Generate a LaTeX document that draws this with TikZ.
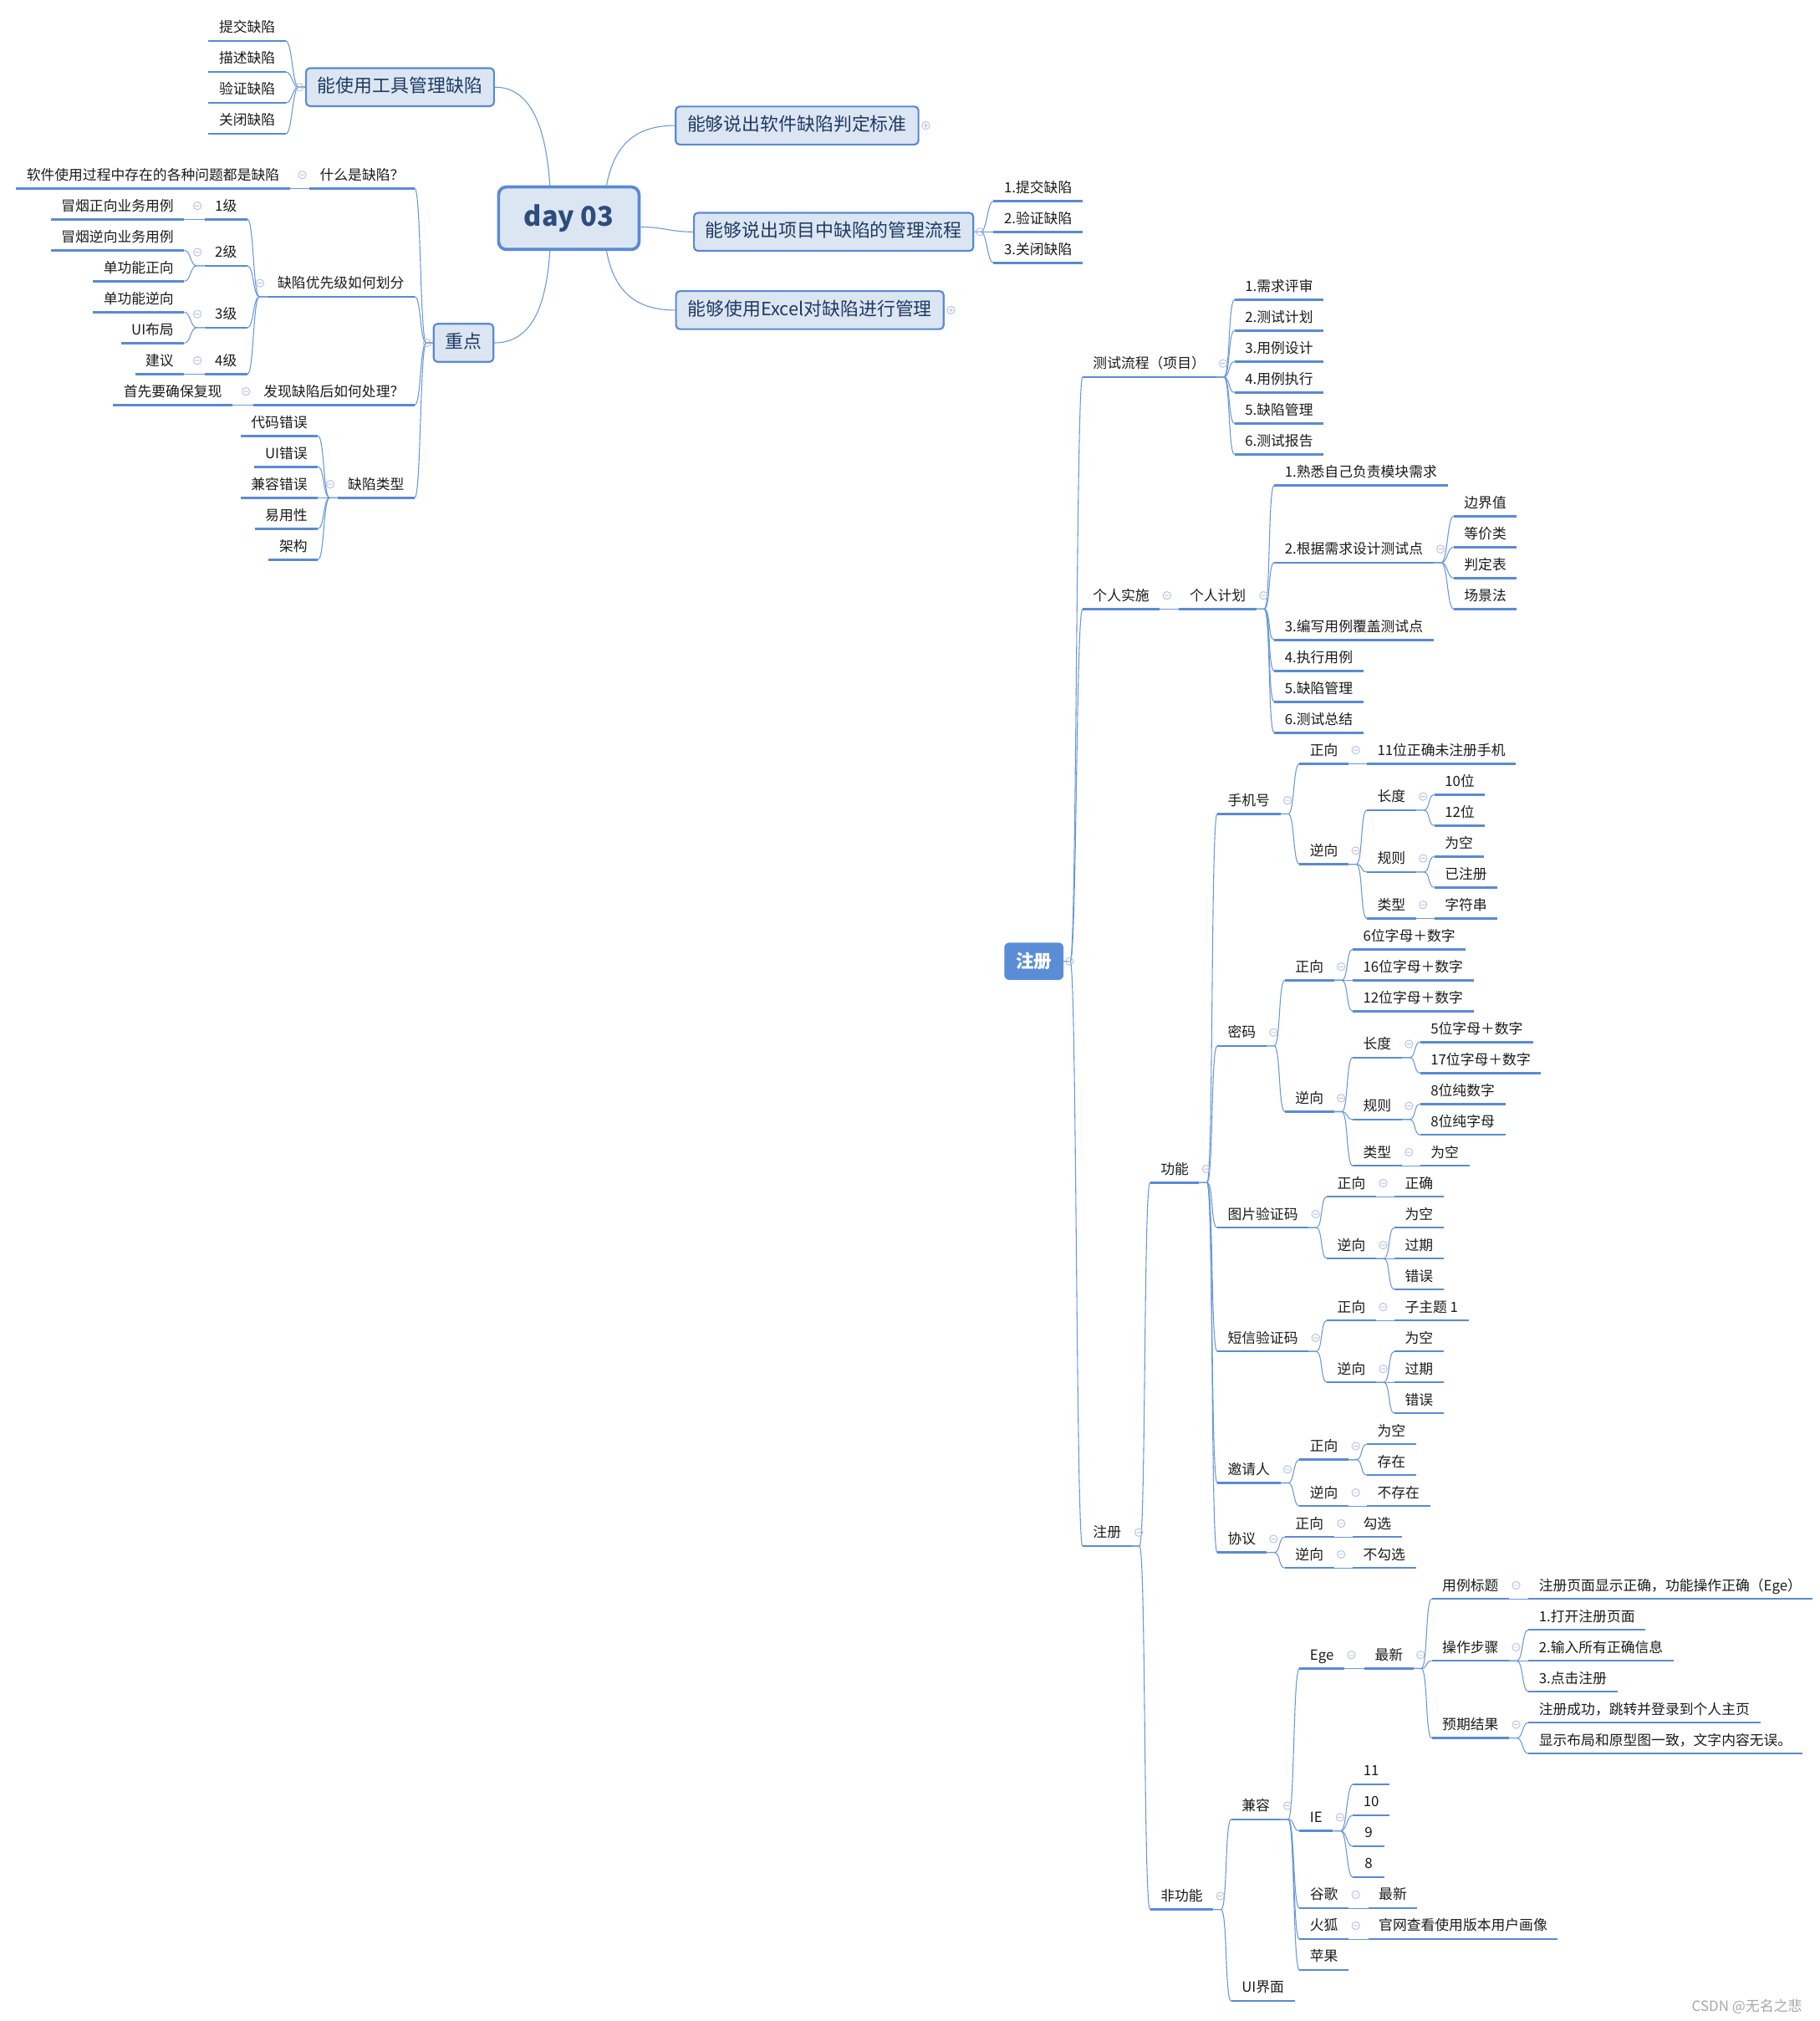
\documentclass[tikz,border=0pt]{standalone}
\usepackage{fontspec}
\setmainfont{Noto Sans CJK SC}
\definecolor{lineblue}{HTML}{5A8AD4}
\definecolor{linkblue}{HTML}{6B98DA}
\definecolor{boxfill}{HTML}{DCE6F3}
\definecolor{boxline}{HTML}{5A8AD4}
\definecolor{boxtext}{HTML}{1F3A63}
\definecolor{daytext}{HTML}{2E4C7C}
\definecolor{rootfill}{HTML}{5B8DD6}
\definecolor{foldgray}{HTML}{B3C0DE}
\definecolor{subtext}{HTML}{1A1A1A}
\definecolor{marktext}{HTML}{A6A6A6}
\newcommand\subfnt{\fontsize{10.9}{13}\selectfont}
\newcommand\topicfnt{\fontsize{14.2}{17}\selectfont}

\begin{document}
\begin{tikzpicture}[
	x=1pt, y=-1pt,
	central/.style={ rectangle, rounded corners=6pt, draw=boxline, line width=2.4pt, fill=boxfill, text=daytext, font=\fontsize{21}{24}\selectfont\bfseries, minimum width=109pt, minimum height=48.5pt },
	topic/.style={ rectangle, rounded corners=3pt, draw=boxline, line width=1.4pt, fill=boxfill, text=boxtext, font=\topicfnt, inner xsep=9pt, inner ysep=0pt, text height=11pt, text depth=2.4pt, minimum height=29.5pt },
	root/.style={ rectangle, rounded corners=4pt, fill=rootfill, text=white, font=\fontsize{14}{16}\selectfont\bfseries, minimum width=46pt, minimum height=29pt, inner sep=0pt },
	sub/.style={ inner xsep=8pt, inner ysep=3pt, text height=9pt, text depth=3.4pt, minimum width=24pt, text=subtext, font=\subfnt, append after command={(\tikzlastnode.south west) edge[uline] (\tikzlastnode.south east)} },
	rsub/.style={ sub, anchor=south west },
	lsub/.style={ sub, anchor=south east },
	uline/.style={ draw=lineblue, line width=1.6pt },
	link/.style={ draw=linkblue, line width=0.7pt },
	fold/.style={ draw=foldgray, line width=0.6pt }
]
\useasboundingbox (0,0) rectangle (1412,1568);

\node at (441.4,169.3) (day) [central] {day 03};
\node at (310.4,67.6) (tool) [topic] {能使用工具管理缺陷};
\node at (618.5,97.4) (std) [topic] {能够说出软件缺陷判定标准};
\node at (646.9,179.9) (flow) [topic] {能够说出项目中缺陷的管理流程};
\node at (628.4,240.6) (excel) [topic] {能够使用Excel对缺陷进行管理};
\node at (359.7,266) (key) [topic] {重点};
\node at (802.3,745.8) (reg) [root] {注册};

\node at (221.8,31.9) (t1) [lsub] {提交缺陷};
\node at (221.8,55.9) (t2) [lsub] {描述缺陷};
\node at (221.8,79.9) (t3) [lsub] {验证缺陷};
\node at (221.8,103.9) (t4) [lsub] {关闭缺陷};

\node at (321.8,146.2) (what) [lsub] {什么是缺陷？};
\node at (321.8,230.2) (prio) [lsub] {缺陷优先级如何划分};
\node at (321.8,314.2) (found) [lsub] {发现缺陷后如何处理？};
\node at (321.8,386.2) (kind) [lsub] {缺陷类型};
\node at (225,146.2) (whatdef) [lsub] {软件使用过程中存在的各种问题都是缺陷};
\node at (192,170.2) (lv1) [lsub] {1级};
\node at (192,206.2) (lv2) [lsub] {2级};
\node at (192,254.2) (lv3) [lsub] {3级};
\node at (192,290.2) (lv4) [lsub] {4级};
\node at (143,170.2) (smk1) [lsub] {冒烟正向业务用例};
\node at (143,194.2) (smk2) [lsub] {冒烟逆向业务用例};
\node at (143,218.2) (unit1) [lsub] {单功能正向};
\node at (143,242.2) (unit2) [lsub] {单功能逆向};
\node at (143,266.2) (uilay) [lsub] {UI布局};
\node at (143,290.2) (advice) [lsub] {建议};
\node at (180.4,314.2) (repro) [lsub] {首先要确保复现};
\node at (246.7,338.2) (k1) [lsub] {代码错误};
\node at (246.7,362.2) (k2) [lsub] {UI错误};
\node at (246.7,386.2) (k3) [lsub] {兼容错误};
\node at (246.7,410.2) (k4) [lsub] {易用性};
\node at (246.7,434.2) (k5) [lsub] {架构};

\node at (771,156) (f1) [rsub] {1.提交缺陷};
\node at (771,180) (f2) [rsub] {2.验证缺陷};
\node at (771,204) (f3) [rsub] {3.关闭缺陷};

\node at (840,292.5) (proc) [rsub] {测试流程（项目）};
\node at (840,472.5) (self) [rsub] {个人实施};
\node at (840,1199.5) (regl) [rsub] {注册};

\node at (958,232.5) (p1) [rsub] {1.需求评审};
\node at (958,256.5) (p2) [rsub] {2.测试计划};
\node at (958,280.5) (p3) [rsub] {3.用例设计};
\node at (958,304.5) (p4) [rsub] {4.用例执行};
\node at (958,328.5) (p5) [rsub] {5.缺陷管理};
\node at (958,352.5) (p6) [rsub] {6.测试报告};

\node at (915,472.5) (plan) [rsub] {个人计划};
\node at (988.8,376.5) (s1) [rsub] {1.熟悉自己负责模块需求};
\node at (988.8,436.5) (s2) [rsub] {2.根据需求设计测试点};
\node at (988.8,496.5) (s3) [rsub] {3.编写用例覆盖测试点};
\node at (988.8,520.5) (s4) [rsub] {4.执行用例};
\node at (988.8,544.5) (s5) [rsub] {5.缺陷管理};
\node at (988.8,568.5) (s6) [rsub] {6.测试总结};
\node at (1128,400.5) (b1) [rsub] {边界值};
\node at (1128,424.5) (b2) [rsub] {等价类};
\node at (1128,448.5) (b3) [rsub] {判定表};
\node at (1128,472.5) (b4) [rsub] {场景法};

\node at (892.4,917.5) (func) [rsub] {功能};
\node at (892.4,1481.5) (nonf) [rsub] {非功能};

\node at (944.5,631.5) (phone) [rsub] {手机号};
\node at (944.5,811.5) (pwd) [rsub] {密码};
\node at (944.5,952.5) (img) [rsub] {图片验证码};
\node at (944.5,1048.5) (sms) [rsub] {短信验证码};
\node at (944.5,1150.5) (inv) [rsub] {邀请人};
\node at (944.5,1204.5) (agr) [rsub] {协议};

\node at (1008.3,592.5) (phpos) [rsub] {正向};
\node at (1008.3,670.5) (phneg) [rsub] {逆向};
\node at (1060.6,592.5) (phok) [rsub] {11位正确未注册手机};
\node at (1060.6,628.5) (phlen) [rsub] {长度};
\node at (1060.6,676.5) (phrule) [rsub] {规则};
\node at (1060.6,712.5) (phtype) [rsub] {类型};
\node at (1113,616.5) (ph10) [rsub] {10位};
\node at (1113,640.5) (ph12) [rsub] {12位};
\node at (1113,664.5) (phnull) [rsub] {为空};
\node at (1113,688.5) (phused) [rsub] {已注册};
\node at (1113,712.5) (phstr) [rsub] {字符串};

\node at (997,760.5) (pwpos) [rsub] {正向};
\node at (997,862.5) (pwneg) [rsub] {逆向};
\node at (1049.6,736.5) (pw6) [rsub] {6位字母＋数字};
\node at (1049.6,760.5) (pw16) [rsub] {16位字母＋数字};
\node at (1049.6,784.5) (pw12) [rsub] {12位字母＋数字};
\node at (1049.6,820.5) (pwlen) [rsub] {长度};
\node at (1049.6,868.5) (pwrule) [rsub] {规则};
\node at (1049.6,904.5) (pwtype) [rsub] {类型};
\node at (1102,808.5) (pw5) [rsub] {5位字母＋数字};
\node at (1102,832.5) (pw17) [rsub] {17位字母＋数字};
\node at (1102,856.5) (pwnum) [rsub] {8位纯数字};
\node at (1102,880.5) (pwalpha) [rsub] {8位纯字母};
\node at (1102,904.5) (pwnull) [rsub] {为空};

\node at (1029.6,928.5) (impos) [rsub] {正向};
\node at (1029.6,976.5) (imneg) [rsub] {逆向};
\node at (1082,928.5) (imok) [rsub] {正确};
\node at (1082,952.5) (imnull) [rsub] {为空};
\node at (1082,976.5) (imexp) [rsub] {过期};
\node at (1082,1000.5) (imerr) [rsub] {错误};

\node at (1029.6,1024.5) (smpos) [rsub] {正向};
\node at (1029.6,1072.5) (smneg) [rsub] {逆向};
\node at (1082,1024.5) (smtopic) [rsub] {子主题 1};
\node at (1082,1048.5) (smnull) [rsub] {为空};
\node at (1082,1072.5) (smexp) [rsub] {过期};
\node at (1082,1096.5) (smerr) [rsub] {错误};

\node at (1008.3,1132.5) (ivpos) [rsub] {正向};
\node at (1008.3,1168.5) (ivneg) [rsub] {逆向};
\node at (1060.6,1120.5) (ivnull) [rsub] {为空};
\node at (1060.6,1144.5) (ivhave) [rsub] {存在};
\node at (1060.6,1168.5) (ivnone) [rsub] {不存在};

\node at (997,1192.5) (agpos) [rsub] {正向};
\node at (997,1216.5) (agneg) [rsub] {逆向};
\node at (1049.6,1192.5) (agyes) [rsub] {勾选};
\node at (1049.6,1216.5) (agno) [rsub] {不勾选};

\node at (955.4,1411.5) (compat) [rsub] {兼容};
\node at (955.4,1552.5) (uiface) [rsub] {UI界面};
\node at (1008.3,1294.5) (ege) [rsub] {Ege};
\node at (1008.3,1420.5) (ie) [rsub] {IE};
\node at (1008.3,1480.5) (chrome) [rsub] {谷歌};
\node at (1008.3,1504.5) (firefox) [rsub] {火狐};
\node at (1008.3,1528.5) (apple) [rsub] {苹果};
\node at (1058.7,1294.5) (egnew) [rsub] {最新};
\node at (1111,1240.5) (title) [rsub] {用例标题};
\node at (1111,1288.5) (steps) [rsub] {操作步骤};
\node at (1111,1348.5) (expect) [rsub] {预期结果};
\node at (1186,1240.5) (titletxt) [rsub] {注册页面显示正确，功能操作正确（Ege）};
\node at (1186,1264.5) (st1) [rsub] {1.打开注册页面};
\node at (1186,1288.5) (st2) [rsub] {2.输入所有正确信息};
\node at (1186,1312.5) (st3) [rsub] {3.点击注册};
\node at (1186,1336.5) (ex1) [rsub] {注册成功，跳转并登录到个人主页};
\node at (1186,1360.5) (ex2) [rsub] {显示布局和原型图一致，文字内容无误。};
\node at (1049.8,1384.5) (ie11) [rsub] {11};
\node at (1049.8,1408.5) (ie10) [rsub] {10};
\node at (1049.8,1432.5) (ie9) [rsub] {9};
\node at (1049.8,1456.5) (ie8) [rsub] {8};
\node at (1061.7,1480.5) (chnew) [rsub] {最新};
\node at (1061.7,1504.5) (fftext) [rsub] {官网查看使用版本用户画像};

\node at (1402,1556.5) (mark) [anchor=east, text=marktext, font=\fontsize{11}{13}\selectfont] {CSDN @无名之悲};

\draw[link] (day.120) .. controls +(-3,-45) and +(28,0) .. (tool.east);
\draw[link] (day.41) .. controls +(6,-32) and +(-30,0) .. (std.west);
\draw[link] (day.353) .. controls +(18,0) and +(-18,0) .. (flow.west);
\draw[link] (day.319) .. controls +(6,32) and +(-30,0) .. (excel.west);
\draw[link] (day.240) .. controls +(-3,45) and +(28,0) .. (key.east);

\foreach \c in {t1,t2,t3,t4}
	\draw[link] (tool.west) -- ++(-5pt,0) .. controls +(-5pt,0) and +(5pt,0) .. (\c.south east);
\foreach \c in {what,prio,found,kind}
	\draw[link] (key.west) -- ++(-5pt,0) .. controls +(-5pt,0) and +(5pt,0) .. (\c.south east);
\foreach \c in {f1,f2,f3}
	\draw[link] (flow.east) -- ++(5pt,0) .. controls +(5pt,0) and +(-5pt,0) .. (\c.south west);
\foreach \c in {proc,self,regl}
	\draw[link] (reg.east) -- ++(5pt,0) .. controls +(5pt,0) and +(-5pt,0) .. (\c.south west);

\foreach \p/\c in {what/whatdef, prio/lv1, prio/lv2, prio/lv3, prio/lv4, lv1/smk1, lv2/smk2, lv2/unit1,
	lv3/unit2, lv3/uilay, lv4/advice, found/repro, kind/k1, kind/k2, kind/k3, kind/k4, kind/k5}
	\draw[link] (\p.south west) -- ++(-6pt,0) .. controls +(-5pt,0) and +(5pt,0) .. (\c.south east);

\foreach \p/\c in {proc/p1, proc/p2, proc/p3, proc/p4, proc/p5, proc/p6, self/plan,
	plan/s1, plan/s2, plan/s3, plan/s4, plan/s5, plan/s6, s2/b1, s2/b2, s2/b3, s2/b4,
	regl/func, regl/nonf, func/phone, func/pwd, func/img, func/sms, func/inv, func/agr,
	phone/phpos, phone/phneg, phpos/phok, phneg/phlen, phneg/phrule, phneg/phtype,
	phlen/ph10, phlen/ph12, phrule/phnull, phrule/phused, phtype/phstr,
	pwd/pwpos, pwd/pwneg, pwpos/pw6, pwpos/pw16, pwpos/pw12, pwneg/pwlen, pwneg/pwrule, pwneg/pwtype,
	pwlen/pw5, pwlen/pw17, pwrule/pwnum, pwrule/pwalpha, pwtype/pwnull,
	img/impos, img/imneg, impos/imok, imneg/imnull, imneg/imexp, imneg/imerr,
	sms/smpos, sms/smneg, smpos/smtopic, smneg/smnull, smneg/smexp, smneg/smerr,
	inv/ivpos, inv/ivneg, ivpos/ivnull, ivpos/ivhave, ivneg/ivnone,
	agr/agpos, agr/agneg, agpos/agyes, agneg/agno,
	nonf/compat, nonf/uiface, compat/ege, compat/ie, compat/chrome, compat/firefox, compat/apple,
	ege/egnew, egnew/title, egnew/steps, egnew/expect, title/titletxt, steps/st1, steps/st2, steps/st3,
	expect/ex1, expect/ex2, ie/ie11, ie/ie10, ie/ie9, ie/ie8, chrome/chnew, firefox/fftext}
	\draw[link] (\p.south east) -- ++(6pt,0) .. controls +(5pt,0) and +(-5pt,0) .. (\c.south west);

\foreach \n in {proc, self, plan, s2, regl, func, phone, phpos, phneg, phlen, phrule, phtype,
	pwd, pwpos, pwneg, pwlen, pwrule, pwtype, img, impos, imneg, sms, smpos, smneg,
	inv, ivpos, ivneg, agr, agpos, agneg, nonf, compat, ege, egnew, title, steps, expect, ie, chrome, firefox}
	\draw[fold] ([xshift=5.5pt,yshift=10.5pt]\n.south east) circle (3pt) +(-1.7pt,0) -- +(1.7pt,0);
\foreach \n in {what, prio, lv1, lv2, lv3, lv4, found, kind}
	\draw[fold] ([xshift=-5.5pt,yshift=10.5pt]\n.south west) circle (3pt) +(-1.7pt,0) -- +(1.7pt,0);
\foreach \n in {tool, key}
	\draw[fold] ([xshift=-4.5pt]\n.west) circle (3pt) +(-1.7pt,0) -- +(1.7pt,0);
\foreach \n in {flow, reg}
	\draw[fold] ([xshift=4.5pt]\n.east) circle (3pt) +(-1.7pt,0) -- +(1.7pt,0);
\foreach \n in {std, excel}
	\draw[fold] ([xshift=5pt]\n.east) circle (3pt) +(-1.7pt,0) -- +(1.7pt,0) +(0,-1.7pt) -- +(0,1.7pt);

\end{tikzpicture}
\end{document}
